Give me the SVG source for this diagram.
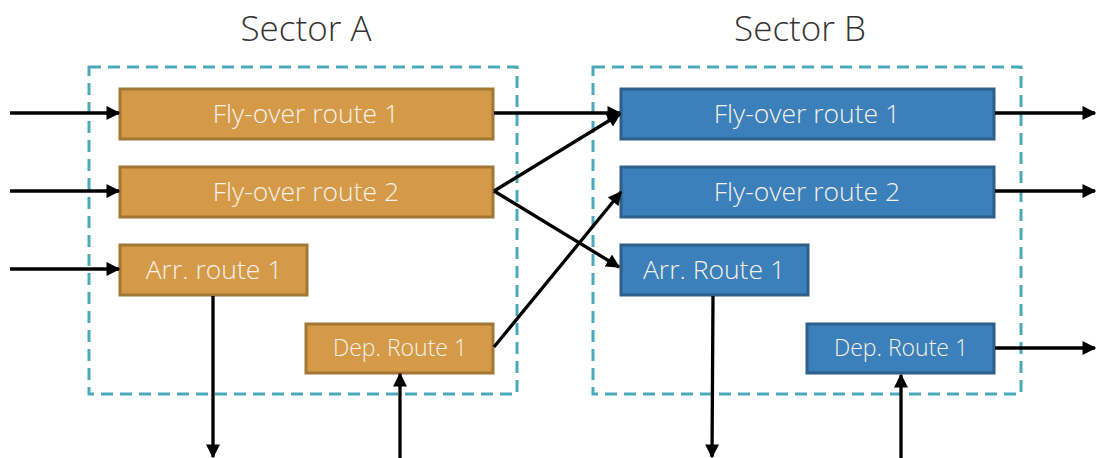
<svg xmlns="http://www.w3.org/2000/svg" width="1096" height="458" viewBox="0 0 1096 458">
  <style>
    .sector { fill: none; stroke: #4BA9B9; stroke-width: 3; stroke-dasharray: 12 7; }
    .title { font-family: "Open Sans", "Liberation Sans", sans-serif; font-weight: 300; font-size: 35px; fill: #333; text-anchor: middle; }
    .a { fill: #D49A48; stroke: #A27634; stroke-width: 3; }
    .b { fill: #3B80BA; stroke: #2E5E8A; stroke-width: 3; }
    .lbl { font-family: "Open Sans", "Liberation Sans", sans-serif; font-weight: 300; font-size: 26.5px; fill: #F7F1E8; text-anchor: middle; dominant-baseline: central; }
    .lbl.sm { font-size: 23px; }
    .edge { fill: none; stroke: #000; stroke-width: 3.3; marker-end: url(#arrow); }
  </style>
  <defs>
    <marker id="arrow" viewBox="0 0 10 10" refX="9" refY="5" markerWidth="4.4" markerHeight="4.2" orient="auto" markerUnits="strokeWidth">
      <path d="M0,0 L10,5 L0,10 z" fill="#000"/>
    </marker>
  </defs>
  <rect width="1096" height="458" fill="#fff"/>

  <!-- sectors -->
  <g id="sectorA">
    <rect class="sector" x="89" y="67" width="428" height="327"/>
    <text class="title" x="306" y="41">Sector A</text>
  </g>
  <g id="sectorB">
    <rect class="sector" x="593" y="67" width="428" height="327"/>
    <text class="title" x="800" y="41">Sector B</text>
  </g>

  <!-- sector A routes -->
  <g id="a-fly1">
    <rect class="a" x="120" y="89" width="373" height="50"/>
    <text class="lbl" x="306" y="113">Fly-over route 1</text>
  </g>
  <g id="a-fly2">
    <rect class="a" x="120" y="167" width="373" height="50"/>
    <text class="lbl" x="306" y="191">Fly-over route 2</text>
  </g>
  <g id="a-arr1">
    <rect class="a" x="120" y="245" width="187" height="50"/>
    <text class="lbl" x="214" y="269">Arr. route 1</text>
  </g>
  <g id="a-dep1">
    <rect class="a" x="306" y="324" width="187" height="49"/>
    <text class="lbl sm" x="400" y="347">Dep. Route 1</text>
  </g>

  <!-- sector B routes -->
  <g id="b-fly1">
    <rect class="b" x="621" y="89" width="373" height="50"/>
    <text class="lbl" x="807" y="113">Fly-over route 1</text>
  </g>
  <g id="b-fly2">
    <rect class="b" x="621" y="167" width="373" height="50"/>
    <text class="lbl" x="807" y="191">Fly-over route 2</text>
  </g>
  <g id="b-arr1">
    <rect class="b" x="621" y="245" width="187" height="50"/>
    <text class="lbl" x="714" y="269">Arr. Route 1</text>
  </g>
  <g id="b-dep1">
    <rect class="b" x="807" y="324" width="187" height="49"/>
    <text class="lbl sm" x="901" y="347">Dep. Route 1</text>
  </g>

  <!-- connectors -->
  <g id="connectors">
    <line class="edge" x1="10" y1="113" x2="119" y2="113"/>
    <line class="edge" x1="10" y1="191" x2="119" y2="191"/>
    <line class="edge" x1="10" y1="269" x2="119" y2="269"/>
    <line class="edge" x1="494" y1="113" x2="620" y2="113"/>
    <line class="edge" x1="494" y1="191" x2="620" y2="114"/>
    <line class="edge" x1="494" y1="191" x2="619" y2="267"/>
    <line class="edge" x1="494" y1="347" x2="621" y2="192"/>
    <line class="edge" x1="213" y1="296" x2="213" y2="457"/>
    <line class="edge" x1="400" y1="458" x2="400" y2="374"/>
    <line class="edge" x1="713" y1="296" x2="712" y2="457"/>
    <line class="edge" x1="901" y1="458" x2="901" y2="375"/>
    <line class="edge" x1="995" y1="113" x2="1095" y2="113"/>
    <line class="edge" x1="995" y1="191" x2="1095" y2="191"/>
    <line class="edge" x1="995" y1="348" x2="1095" y2="348"/>
  </g>
</svg>
